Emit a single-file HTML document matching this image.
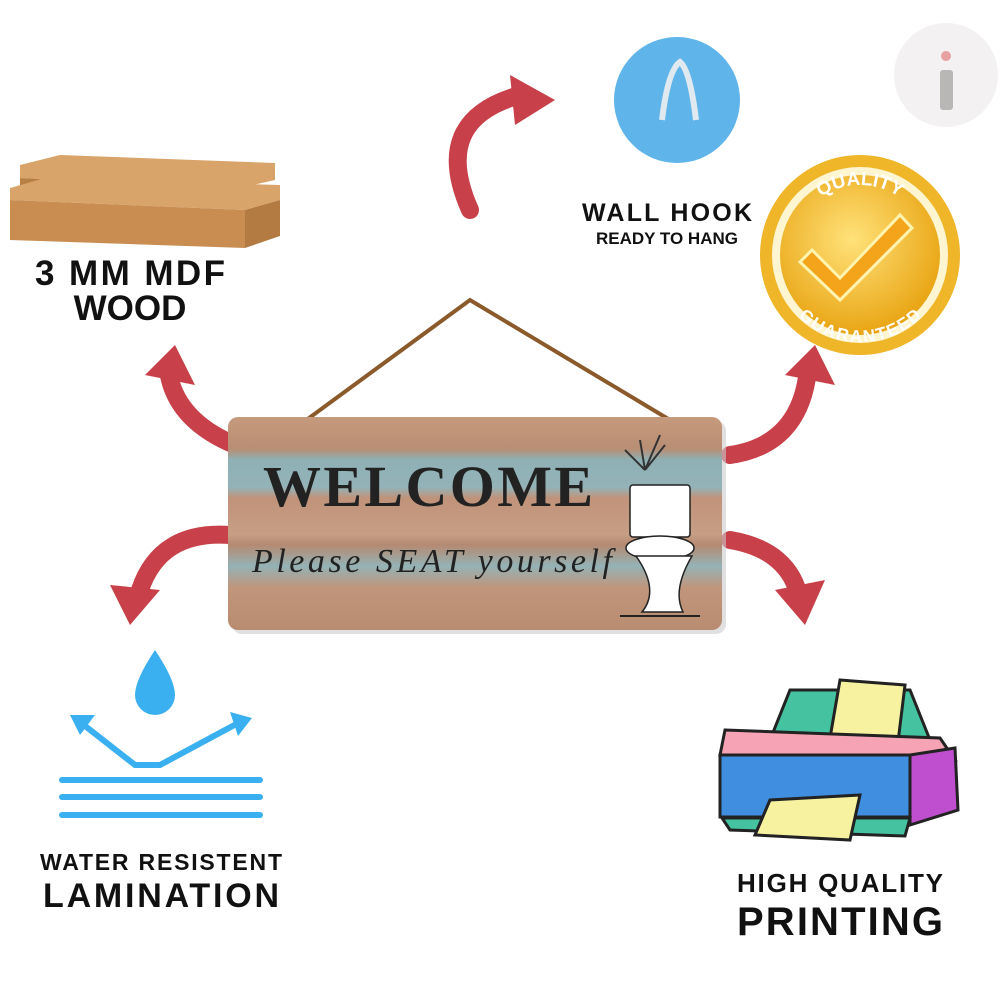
<!DOCTYPE html>
<html><head><meta charset="utf-8"><style>
html,body{margin:0;padding:0;background:#fff;width:1000px;height:1000px;overflow:hidden}
svg{display:block}
text{font-family:"Liberation Sans",Arial,sans-serif;font-weight:bold;fill:#111}
</style></head><body>
<svg width="1000" height="1000" viewBox="0 0 1000 1000" xmlns="http://www.w3.org/2000/svg">
<defs>
<linearGradient id="wood" x1="0" y1="0" x2="0" y2="1">
<stop offset="0" stop-color="#c69a7c"/><stop offset="0.15" stop-color="#b88e74"/>
<stop offset="0.2" stop-color="#8fb0b4"/><stop offset="0.33" stop-color="#93b3b8"/>
<stop offset="0.38" stop-color="#c0937a"/><stop offset="0.55" stop-color="#c79e84"/>
<stop offset="0.6" stop-color="#b58a72"/><stop offset="0.7" stop-color="#94b2b5"/>
<stop offset="0.8" stop-color="#c0967c"/><stop offset="1" stop-color="#b88c70"/>
</linearGradient>
<radialGradient id="gold" cx="0.45" cy="0.4" r="0.6"><stop offset="0" stop-color="#ffe27a"/><stop offset="1" stop-color="#e9a514"/></radialGradient>
<path id="top" d="M790 255 A70 70 0 0 1 930 255"/>
<path id="bot" d="M785 255 A75 75 0 0 0 935 255"/>
</defs>
<!-- logo -->
<circle cx="946" cy="75" r="52" fill="#f3f1f1"/>
<rect x="940" y="70" width="13" height="40" rx="3" fill="#b9b6b6"/>
<circle cx="946" cy="56" r="5" fill="#e9a0a0"/>
<!-- wood planks -->
<polygon points="20,165 60,155 275,163 275,180 240,188 20,178" fill="#d9a46a"/>
<polygon points="20,178 240,188 240,200 20,190" fill="#b87f45"/>
<polygon points="10,188 45,178 280,185 280,200 245,210 10,200" fill="#d9a46a"/>
<polygon points="10,200 245,210 245,248 10,240" fill="#c98d52"/>
<polygon points="245,210 280,200 280,236 245,248" fill="#b37a42"/>
<text x="130" y="285" font-size="35" text-anchor="middle" textLength="190">3 MM MDF</text>
<text x="130" y="320" font-size="35" text-anchor="middle">WOOD</text>
<!-- hook -->
<circle cx="677" cy="100" r="63" fill="#5fb4ea"/>
<path d="M662 120 Q668 70 680 62 Q690 70 696 120" fill="none" stroke="#dfe9ef" stroke-width="6"/>
<text x="667" y="221" font-size="25" text-anchor="middle" textLength="170">WALL HOOK</text>
<text x="667" y="244" font-size="17" text-anchor="middle">READY TO HANG</text>
<!-- badge -->
<circle cx="860" cy="255" r="100" fill="#f0b62a"/>
<circle cx="860" cy="255" r="88" fill="#fff5d0"/>
<circle cx="860" cy="255" r="80" fill="url(#gold)"/>
<path d="M812 250 L840 278 L900 215 L912 228 L840 300 L800 262 Z" fill="#f4a41a" stroke="#fff3b0" stroke-width="3"/>
<text font-size="19" style="fill:#fff"><textPath href="#top" startOffset="50%" text-anchor="middle">QUALITY</textPath></text>
<text font-size="17" style="fill:#fff"><textPath href="#bot" startOffset="50%" text-anchor="middle" dominant-baseline="hanging">GUARANTEED</textPath></text>
<!-- arrows -->
<g fill="none" stroke="#c8404a" stroke-width="18" stroke-linecap="round">
<path d="M470 210 Q430 120 520 95"/>
<path d="M235 445 Q175 420 168 370"/>
<path d="M730 455 Q800 445 808 370"/>
<path d="M230 535 Q160 530 140 590"/>
<path d="M730 540 Q790 550 800 600"/>
</g>
<g fill="#c8404a">
<polygon points="510,75 555,100 515,125"/>
<polygon points="145,375 175,345 195,385"/>
<polygon points="785,375 815,345 835,385"/>
<polygon points="110,585 160,590 130,625"/>
<polygon points="775,590 825,580 805,625"/>
</g>
<!-- string -->
<path d="M290 432 L470 300 L690 432" fill="none" stroke="#8a5a2a" stroke-width="4"/>
<!-- sign -->
<rect x="232" y="421" width="494" height="213" rx="10" fill="#ccc" opacity="0.6"/>
<rect x="228" y="417" width="494" height="213" rx="10" fill="url(#wood)"/>
<text x="428" y="506" font-size="58" text-anchor="middle" textLength="330" style="font-family:'Liberation Serif',serif;fill:#222">WELCOME</text>
<text x="432" y="572" font-size="34" text-anchor="middle" textLength="360" style="font-family:'Liberation Serif',serif;font-style:italic;font-weight:normal;fill:#222">Please SEAT yourself</text>
<g fill="#fff" stroke="#222" stroke-width="1.5">
<rect x="630" y="485" width="60" height="52" rx="3"/>
<ellipse cx="660" cy="548" rx="34" ry="12"/>
<path d="M636 556 Q660 590 642 612 L683 612 Q672 590 692 556 Z"/>
</g>
<line x1="620" y1="616" x2="700" y2="616" stroke="#222" stroke-width="2"/>
<path d="M645 470 L640 440 M645 470 L625 450 M645 470 L665 445 M645 470 L660 435" stroke="#333" stroke-width="2"/>
<!-- water -->
<path d="M155 650 Q135 680 135 695 A20 20 0 0 0 175 695 Q175 680 155 650Z" fill="#3ab0f0"/>
<g stroke="#3ab0f0" stroke-width="6" fill="none" stroke-linecap="round">
<path d="M80 722 L135 765 L160 765 L240 722"/>
<path d="M62 780 L260 780"/><path d="M62 797 L260 797"/><path d="M62 815 L260 815"/>
</g>
<polygon points="70,715 95,715 80,735" fill="#3ab0f0"/>
<polygon points="230,712 252,718 238,736" fill="#3ab0f0"/>
<text x="161" y="870" font-size="23" text-anchor="middle" textLength="242">WATER RESISTENT</text>
<text x="161" y="907" font-size="34" text-anchor="middle" textLength="236">LAMINATION</text>
<!-- printer -->
<polygon points="790,690 910,690 930,740 770,740" fill="#45c3a0" stroke="#222" stroke-width="3"/>
<polygon points="840,680 905,685 898,742 830,738" fill="#f7f2a0" stroke="#222" stroke-width="3"/>
<polygon points="725,730 940,738 955,760 720,755" fill="#f5a3b5" stroke="#222" stroke-width="3"/>
<rect x="720" y="755" width="190" height="62" fill="#3f8ee0" stroke="#222" stroke-width="3"/>
<polygon points="910,755 955,748 958,810 910,825" fill="#c04fd0" stroke="#222" stroke-width="3"/>
<polygon points="722,818 910,818 905,836 730,830" fill="#45c3a0" stroke="#222" stroke-width="3"/>
<polygon points="770,800 860,795 850,840 755,835" fill="#f7f2a0" stroke="#222" stroke-width="3"/>
<text x="840" y="892" font-size="26" text-anchor="middle" textLength="206">HIGH QUALITY</text>
<text x="840" y="935" font-size="40" text-anchor="middle" textLength="206">PRINTING</text>
</svg>
</body></html>
